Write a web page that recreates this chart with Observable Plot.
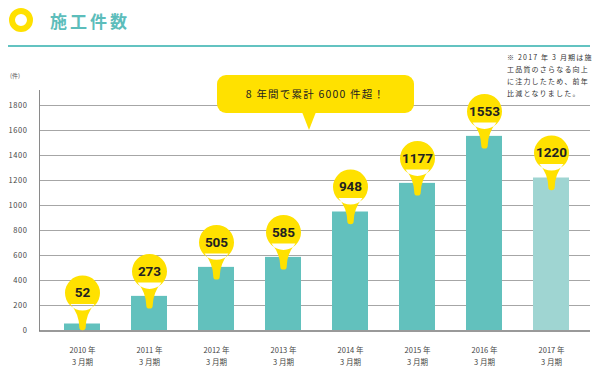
<!DOCTYPE html>
<html>
<head>
<meta charset="utf-8">
<script src="https://cdn.jsdelivr.net/npm/d3@7"></script>
<script src="https://cdn.jsdelivr.net/npm/@observablehq/plot@0.6"></script>
<style>
  body { margin: 0; background: #fff; }
  #wrap { position: relative; width: 598px; height: 375px; font-family: "Noto Sans CJK JP", sans-serif; color: #333; overflow: hidden; }
  #header { position: relative; height: 50px; }
  .ring { position: absolute; left: 9px; top: 7.5px; width: 12px; height: 12px; border: 6.5px solid #ffe100; border-radius: 50%; }
  .title { position: absolute; left: 50px; top: 12px; font-size: 17px; line-height: 17px; font-weight: 700; letter-spacing: 3px; color: #5cbdbb; white-space: nowrap; }
  .hline { position: absolute; left: 8px; top: 45px; width: 582px; height: 2px; background: #63c3c1; }
  #chart { position: relative; }
  .unit { position: absolute; left: 10px; top: 72px; font-size: 6px; line-height: 8px; color: #555; }
  .note { position: absolute; left: 507px; top: 50.5px; font-size: 7px; line-height: 12.3px; letter-spacing: 1.2px; color: #333; white-space: nowrap; }
  .callout { position: absolute; left: 217px; top: 75px; width: 197px; height: 38px; background: #ffe100; border-radius: 9px; text-align: center; font-size: 10.5px; line-height: 38px; letter-spacing: 1.2px; color: #222; white-space: nowrap; }
  .callout::after { content: ""; position: absolute; left: 85px; top: 37px; width: 0; height: 0; border-left: 7.5px solid transparent; border-right: 7.5px solid transparent; border-top: 18px solid #ffe100; }
  g[aria-label="value-label"] text { letter-spacing: -0.2px; }
  g[aria-label="x-label"] text, g[aria-label="y-axis tick label"] text { letter-spacing: 0.6px; }
</style>
</head>
<body>
<div id="wrap">
  <div id="header">
    <div class="ring"></div>
    <div class="title">施工件数</div>
    <div class="hline"></div>
  </div>
  <div id="chart"></div>
  <div class="unit">(件)</div>
  <div class="note">※ 2017 年 3 月期は施<br>工品質のさらなる向上<br>に注力したため、前年<br>比減となりました。</div>
  <div class="callout">8 年間で累計 6000 件超！</div>
</div>
<script>
// ---- data ----
const years = ["2010", "2011", "2012", "2013", "2014", "2015", "2016", "2017"];
const counts = [52, 273, 505, 585, 948, 1177, 1553, 1220];
const kinds = ["normal", "normal", "normal", "normal", "normal", "normal", "normal", "lower"];
const yTicks = [0, 200, 400, 600, 800, 1000, 1200, 1400, 1600, 1800];

const rows = years.map((year, i) => ({ year, count: counts[i], kind: kinds[i] }));

const teal = "#62c1bd";
const tealLight = "#9fd5d2";
const yellow = "#ffe100";

// map-pin shape: anchor (0,0) sits near the bar top; circle above, tail below
const pinSymbol = {
  draw(ctx) {
    ctx.moveTo(-12, -14);
    ctx.quadraticCurveTo(-3.5, -4, -3.2, 9);
    ctx.arc(0, 9, 3.2, Math.PI, 0, true);
    ctx.quadraticCurveTo(3.5, -4, 12, -14);
    ctx.closePath();
    ctx.moveTo(17.5, -25);
    ctx.arc(0, -25, 17.5, 0, 2 * Math.PI);
    ctx.closePath();
  }
};
// very short bars keep their pin above the baseline
const pinY = d => Math.max(d.count, 100);

const chart = Plot.plot({
  width: 598,
  height: 325,
  marginLeft: 39,
  marginRight: 8,
  marginTop: 40,
  marginBottom: 45,
  style: { fontFamily: "'Noto Sans CJK JP', sans-serif", fontSize: "7.5px", color: "#444", background: "transparent", overflow: "visible" },
  x: { domain: years, paddingInner: 0.466, paddingOuter: 0.233, insetLeft: 8, insetRight: 4, axis: null },
  y: { domain: [0, 1800], insetTop: 15, axis: null },
  color: { domain: ["normal", "lower"], range: [teal, tealLight] },
  marks: [
    Plot.ruleY(yTicks.slice(1), { stroke: "#a6a6a6", strokeWidth: 1 }),
    Plot.frame({ anchor: "left", stroke: "#8a8a8a" }),
    Plot.barY(rows, { x: "year", y: "count", fill: "kind" }),
    Plot.ruleY([0], { stroke: "#777", strokeWidth: 1.5, dy: 0.5 }),
    Plot.axisY({ ticks: yTicks, tickSize: 0, tickPadding: 12, tickFormat: d => String(d), label: null, fill: "#444", fontSize: 7.5 }),
    Plot.text(rows, {
      x: "year",
      text: d => `${d.year} 年\n3 月期`,
      frameAnchor: "bottom",
      lineAnchor: "middle",
      lineHeight: 1.6,
      dy: 25,
      fill: "#444",
      fontSize: 7.5,
      ariaLabel: "x-label"
    }),
    Plot.dot(rows, { x: "year", y: pinY, symbol: pinSymbol, r: 5, fill: yellow, stroke: "none" }),
    Plot.text(rows, {
      x: "year",
      y: pinY,
      dy: -25,
      text: d => String(d.count),
      fontFamily: "Roboto",
      fontWeight: 700,
      fontSize: 13.5,
      fill: "#222",
      ariaLabel: "value-label"
    })
  ]
});
document.getElementById("chart").appendChild(chart);
</script>
</body>
</html>
